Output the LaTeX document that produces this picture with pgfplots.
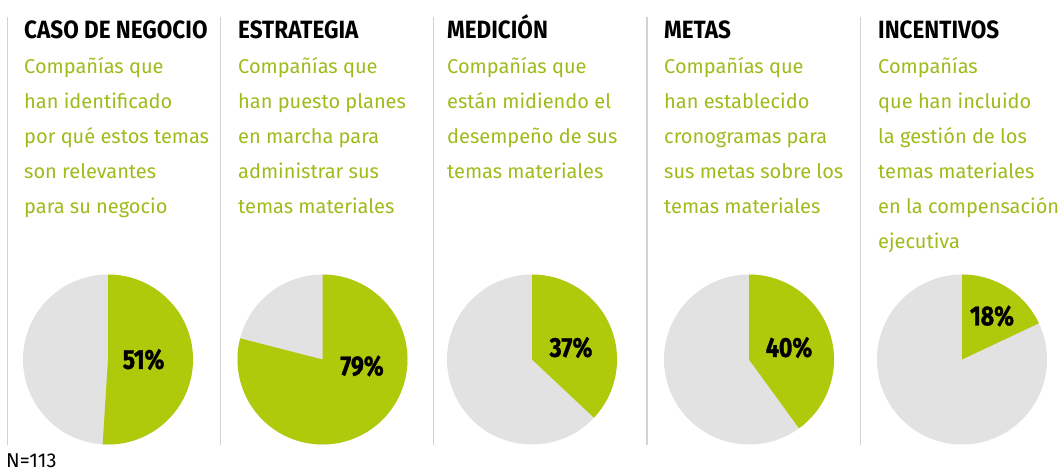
\documentclass[border=0pt]{standalone}
\usepackage{fontspec}
\setmainfont{Fira Sans}
\newfontfamily\condfont[FakeStretch=0.9]{Fira Sans}
\newfontfamily\pctfamily[FakeStretch=0.84,FakeBold=1.2]{Fira Sans}
\usepackage{pgfplots}
\pgfplotsset{compat=1.18}
\definecolor{pgreen}{HTML}{AFCA0B}
\definecolor{tgreen}{HTML}{9DBC1B}
\definecolor{pgray}{HTML}{E2E2E2}
\definecolor{sepgray}{HTML}{D2D2D2}
\newcommand\headfont{\condfont\bfseries\fontsize{25}{28}\selectfont}
\newcommand\pctfont{\pctfamily\bfseries\fontsize{27.5}{30}\selectfont}
\newcommand\descfont{\fontsize{20}{24}\selectfont}
% #1 centre x, #2 centre y, #3 percent, #4 #5 label position (axis units)
\newcommand\pie[5]{%
\begin{axis}[at={(#1pt,#2pt)},anchor=center,width=170pt,height=170pt,
  scale only axis,hide axis,clip=false,xmin=-1,xmax=1,ymin=-1,ymax=1]
\addplot[fill=pgray,draw=none,domain=0:100,samples=181] ({sin(3.6*x)},{cos(3.6*x)}) -- cycle;
\addplot[fill=pgreen,draw=none,domain=0:#3,samples=120] ({sin(3.6*x)},{cos(3.6*x)}) -- (axis cs:0,0) -- cycle;
\node[font=\pctfont,inner sep=0pt] at (axis cs:#4,#5) {#3\%};
\end{axis}}
\newcommand\column[3]{%
\node[anchor=base west,inner sep=0pt,font=\headfont] at (#1pt,433pt) {#2};
\foreach \t [count=\i] in {#3}
  \node[anchor=base west,inner sep=0pt,font=\descfont,text=tgreen] at ({#1pt},{398pt-(\i-1)*34.8pt}) {\t};}
\begin{document}
\begin{tikzpicture}
\path[use as bounding box] (0,0) rectangle (1062pt,472pt);
\foreach \x in {7.5,220.5,433.5,647,860.5}
  \draw[sepgray,line width=1.5pt] (\x pt,27pt) -- (\x pt,455pt);
\column{24}{CASO DE NEGOCIO}{Compañías que,han identificado,por qué estos temas,son relevantes,para su negocio}
\column{238}{ESTRATEGIA}{Compañías que,han puesto planes,en marcha para,administrar sus,temas materiales}
\column{447}{MEDICIÓN}{Compañías que,están midiendo el,desempeño de sus,temas materiales}
\column{664}{METAS}{Compañías que,han establecido,cronogramas para,sus metas sobre los,temas materiales}
\column{878}{INCENTIVOS}{Compañías,que han incluido,la gestión de los,temas materiales,en la compensación,ejecutiva}
\pie{108}{112.5}{51}{0.418}{0}
\pie{322.5}{112.5}{79}{0.465}{-0.076}
\pie{532}{112.5}{37}{0.459}{0.141}
\pie{749}{112.5}{40}{0.471}{0.141}
\pie{962}{112.5}{18}{0.353}{0.512}
\node[anchor=base west,inner sep=0pt,font=\fontsize{20}{22}\selectfont] at (6pt,4.5pt) {N=113};
\end{tikzpicture}
\end{document}
